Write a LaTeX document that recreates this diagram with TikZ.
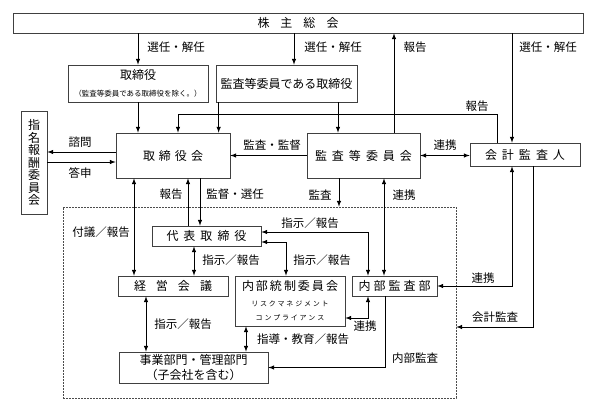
\documentclass[tikz,border=0pt]{standalone}
\usepackage{fontspec}
\setmainfont{Noto Sans CJK JP}

\makeatletter
\newcommand\spreadtext[2]{\def\spread@sep{\hspace{#1}}\spread@first#2\@nil}
\def\spread@first#1{\ifx#1\@nil\else#1\expandafter\spread@rest\fi}
\def\spread@rest#1{\ifx#1\@nil\else\spread@sep#1\expandafter\spread@rest\fi}
\makeatother

\newcommand\smalltxt{\fontsize{7}{13}\selectfont}

\tikzset{
  box/.style={draw=black!75, line width=0.7pt, inner sep=0pt, font=\fontsize{12}{14}\selectfont},
  lbl/.style={inner sep=0pt, font=\fontsize{11.5}{13}\selectfont},
  conn/.style={line width=1pt, black},
  group/.style={draw=black!70, line width=0.6pt, dash pattern=on 1.6pt off 1.4pt, inner sep=0pt},
}

\begin{document}
\begin{tikzpicture}[x=1pt,y=-1pt]
  \useasboundingbox (0,0) rectangle (595,400);

  % 枠
  \node[box, minimum width=570, minimum height=20] (kabu) at (298,23) {\spreadtext{11pt}{株主総会}};
  \node[box, minimum width=140, minimum height=37, align=center] (tori) at (138,83.5)
    {取締役\\[3pt]\fontsize{7.5}{9}\selectfont （監査等委員である取締役を除く。）};
  \node[box, minimum width=141, minimum height=37] (kantori) at (286.5,83.5) {監査等委員である取締役};
  \node[box, minimum width=114, minimum height=45] (torikai) at (173,155.5) {\spreadtext{4pt}{取締役会}};
  \node[box, minimum width=113, minimum height=45] (kansakai) at (363.5,155.5) {\spreadtext{5pt}{監査等委員会}};
  \node[box, minimum width=110, minimum height=23] (kaikei) at (525,154.5) {\spreadtext{5pt}{会計監査人}};
  \node[box, minimum width=26, minimum height=103, align=center, font=\fontsize{12}{12.5}\selectfont] (shimei) at (34,162.5)
    {指\\名\\報\\酬\\委\\員\\会};

  % 社内（点線）
  \node[group, minimum width=393, minimum height=191] (shanai) at (259.5,302.5) {};
  \node[box, minimum width=109, minimum height=20] (daihyo) at (206.5,236) {\spreadtext{5pt}{代表取締役}};
  \node[box, minimum width=110, minimum height=20] (keiei) at (173,286) {\spreadtext{10pt}{経営会議}};
  \node[box, minimum width=110, minimum height=50, align=center] (naitou) at (290,301)
    {\spreadtext{2pt}{内部統制委員会}\\[2pt]\smalltxt\spreadtext{1.8pt}{リスクマネジメント}\\\smalltxt\spreadtext{1.8pt}{コンプライアンス}};
  \node[box, minimum width=85, minimum height=20] (naikan) at (394.5,286) {\spreadtext{3pt}{内部監査部}};
  \node[box, minimum width=149, minimum height=31, align=center, font=\fontsize{12}{15}\selectfont] (jigyo) at (193.5,367.5)
    {事業部門・管理部門\\（子会社を含む）};

  % 株主総会から
  \draw[conn,-latex] (tori.north |- kabu.south) -- (tori.north);
  \coordinate (sA) at ([xshift=7.5pt]kantori.north);
  \draw[conn,-latex] (sA |- kabu.south) -- (sA);
  \coordinate (sB) at ([xshift=30.5pt]kansakai.north);
  \draw[conn,-latex] (sB) -- (sB |- kabu.south);
  \coordinate (sC) at ([xshift=-13pt]kaikei.north);
  \draw[conn,-latex] (sC |- kabu.south) -- (sC);
  \node[lbl] (lSenA) at (176,47) {選任・解任};
  \node[lbl] (lSenB) at (333,47) {選任・解任};
  \node[lbl] (lHoA) at (415,47) {報告};
  \node[lbl] (lSenC) at (548,47) {選任・解任};

  % 取締役会へ
  \draw[conn,-latex] (tori.south) -- (tori.south |- torikai.north);
  \coordinate (kA) at ([xshift=3pt]kantori.south west);
  \draw[conn,-latex] (kA) -- (kA |- torikai.north);
  \coordinate (kB) at ([xshift=51.5pt]kantori.south);
  \draw[conn,-latex] (kB) -- (kB |- kansakai.north);
  \coordinate (hA) at ([xshift=-28pt]kaikei.north);
  \coordinate (hB) at ([xshift=5pt]torikai.north);
  \draw[conn,-latex] (hA) -- ++(0,-28) -| (hB);
  \node[lbl] (lHoB) at (477,106) {報告};

  % 監査等委員会
  \draw[conn,-latex] (kansakai.west) -- (torikai.east);
  \node[lbl] (lKanA) at (272,145) {監査・監督};
  \draw[conn,latex-latex] (kansakai.east) -- (kansakai.east -| kaikei.west);
  \node[lbl] (lRenA) at (445,145) {連携};

  % 指名報酬委員会
  \coordinate (shimon) at ([yshift=3.5pt]torikai.west);
  \draw[conn,-latex] (shimon) -- (shimon -| shimei.east);
  \coordinate (toushin) at ([yshift=-6.5pt]torikai.west);
  \draw[conn,latex-] (toushin) -- (toushin -| shimei.east);
  \node[lbl] (lShi) at (80,142) {諮問};
  \node[lbl] (lTou) at (80,173) {答申};

  % 取締役会の下
  \coordinate (dA) at ([xshift=-18.5pt]daihyo.north);
  \draw[conn,-latex] (dA) -- (dA |- torikai.south);
  \coordinate (dB) at ([xshift=-6.5pt]daihyo.north);
  \draw[conn,latex-] (dB) -- (dB |- torikai.south);
  \node[lbl] (lHoC) at (171,194) {報告};
  \node[lbl] (lKanB) at (235,194) {監督・選任};
  \coordinate (fA) at ([xshift=-39pt]keiei.north);
  \draw[conn,latex-latex] (fA) -- (fA |- torikai.south);
  \node[lbl] (lFugi) at (101,232) {付議／報告};

  % 監査等委員会の下
  \coordinate (mA) at ([xshift=-24.5pt]kansakai.south);
  \draw[conn,-latex] (mA) -- (mA |- shanai.north);
  \node[lbl] (lKanC) at (320,195) {監査};
  \coordinate (rA) at ([xshift=-10.5pt]naikan.north);
  \draw[conn,latex-latex] (rA) -- (rA |- kansakai.south);
  \node[lbl] (lRenB) at (404,195) {連携};

  % 代表取締役から
  \draw[conn,latex-latex] ([yshift=4pt]daihyo.east) -| ([xshift=-26.5pt]naikan.north);
  \node[lbl] (lShiA) at (310,223) {指示／報告};
  \draw[conn,latex-latex] ([yshift=-6pt]daihyo.east) -| ([xshift=-4pt]naitou.north);
  \node[lbl] (lShiB) at (322,260) {指示／報告};
  \coordinate (dk) at ([xshift=21pt]keiei.north);
  \draw[conn,latex-latex] (dk) -- (dk |- daihyo.south);
  \node[lbl] (lShiC) at (231,260) {指示／報告};

  % 事業部門・管理部門へ
  \coordinate (kj) at ([xshift=-27pt]keiei.south);
  \draw[conn,latex-latex] (kj) -- (kj |- jigyo.north);
  \node[lbl] (lShiD) at (183,324) {指示／報告};
  \coordinate (nj) at ([xshift=-44pt]naitou.south);
  \draw[conn,latex-latex] (nj) -- (nj |- jigyo.north);
  \node[lbl] (lShido) at (303,339) {指導・教育／報告};

  % 内部監査部から
  \coordinate (nr) at ([yshift=-17pt]naitou.east);
  \draw[conn,latex-latex] ([xshift=-26.5pt]naikan.south) |- (nr);
  \node[lbl] (lRenC) at (365,326) {連携};
  \draw[conn,-latex] ([xshift=-9.5pt]naikan.south) |- (jigyo.east);
  \node[lbl] (lNai) at (415,358) {内部監査};

  % 会計監査人から
  \draw[conn,latex-latex] ([xshift=-13pt]kaikei.south) |- (naikan.east);
  \node[lbl] (lRenD) at (483,278) {連携};
  \coordinate (kk) at ([yshift=-24.5pt]shanai.east);
  \draw[conn,-latex] ([xshift=8pt]kaikei.south) |- (kk);
  \node[lbl] (lKai) at (495,317) {会計監査};
\end{tikzpicture}
\end{document}
